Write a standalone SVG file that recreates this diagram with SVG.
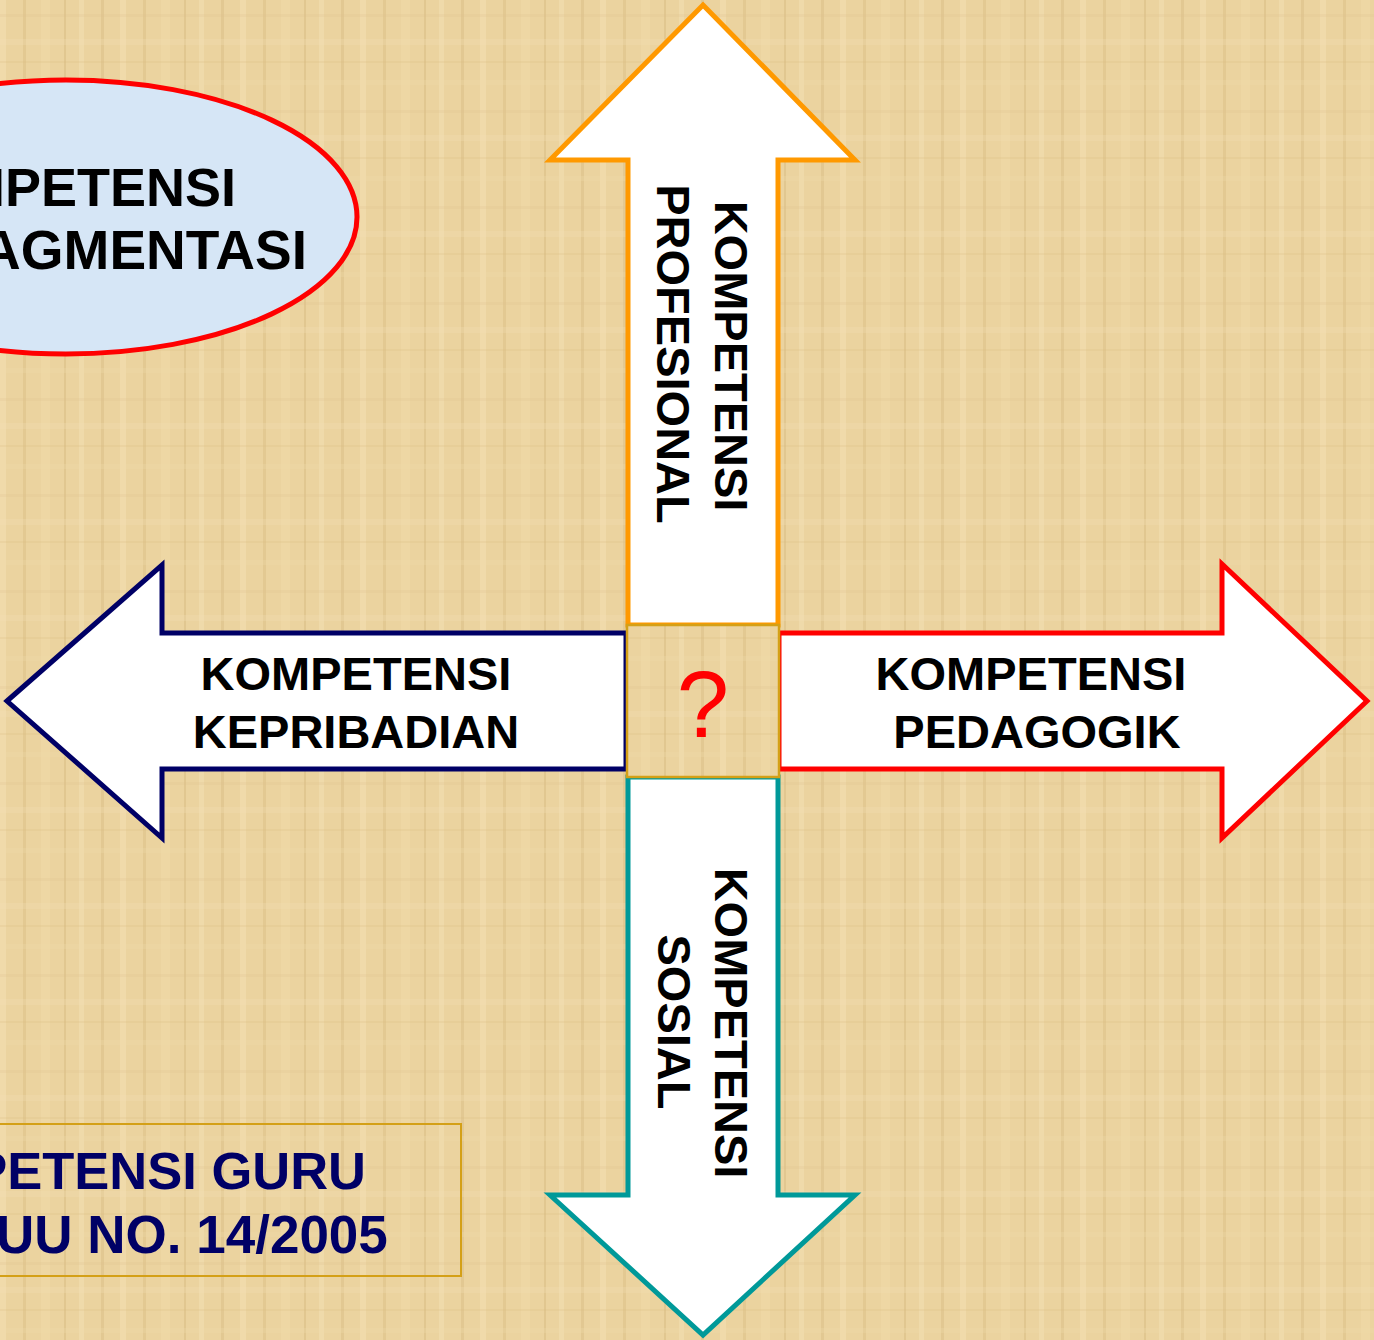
<svg xmlns="http://www.w3.org/2000/svg" width="1374" height="1340" viewBox="0 0 1374 1340">
<defs>
<style>
.t{font-family:"Liberation Sans",Arial,sans-serif;font-weight:bold;font-size:47px;fill:#000}
.big{font-family:"Liberation Sans",Arial,sans-serif;font-weight:bold;font-size:55px}
.arrow{fill:#fff;stroke-width:5;stroke-linejoin:miter}
</style>
<pattern id="papyrus" width="120" height="96" patternUnits="userSpaceOnUse">
<rect width="120" height="96" fill="#ebd39f"/>
<rect x="0" y="0" width="6" height="96" fill="#f3dfb0" opacity="0.6"/>
<rect x="23" y="0" width="3" height="96" fill="#d9bd84" opacity="0.45"/>
<rect x="41" y="0" width="9" height="96" fill="#f1dbaa" opacity="0.5"/>
<rect x="64" y="0" width="2" height="96" fill="#d2b47a" opacity="0.4"/>
<rect x="79" y="0" width="5" height="96" fill="#f4e2b6" opacity="0.5"/>
<rect x="101" y="0" width="3" height="96" fill="#d8bb82" opacity="0.45"/>
<rect x="0" y="14" width="120" height="3" fill="#dcc08a" opacity="0.2"/>
<rect x="0" y="39" width="120" height="6" fill="#f3e0b3" opacity="0.3"/>
<rect x="0" y="61" width="120" height="2" fill="#d6b97f" opacity="0.2"/>
<rect x="0" y="80" width="120" height="5" fill="#f1dcab" opacity="0.3"/>
</pattern>
</defs>
<rect width="1374" height="1340" fill="url(#papyrus)"/>

<g id="node-fragmentasi">
<ellipse cx="66" cy="217" rx="291" ry="137" fill="#d6e6f6" stroke="#ff0000" stroke-width="5"/>
<text class="big" x="236" y="206" text-anchor="end" fill="#000" style="font-size:54px">KOMPETENSI</text>
<text class="big" x="307" y="269" text-anchor="end" fill="#000">FRAGMENTASI</text>
</g>

<g id="node-profesional">
<polygon class="arrow" stroke="#ff9900" points="703,5 855,160 778,160 778,625 628,625 628,160 550,160"/>
<text class="t" text-anchor="middle" transform="translate(715,356) rotate(90)">KOMPETENSI</text>
<text class="t" text-anchor="middle" transform="translate(657,354) rotate(90)">PROFESIONAL</text>
</g>

<g id="node-sosial">
<polygon class="arrow" stroke="#009999" points="628,777 778,777 778,1195 855,1195 703,1335 550,1195 628,1195"/>
<text class="t" text-anchor="middle" transform="translate(715,1023) rotate(90)">KOMPETENSI</text>
<text class="t" text-anchor="middle" transform="translate(658,1022) rotate(90)">SOSIAL</text>
</g>

<g id="node-kepribadian">
<polygon class="arrow" stroke="#000066" points="7,701 162,565 162,633 626,633 626,769 162,769 162,838"/>
<text class="t" x="356" y="690" text-anchor="middle">KOMPETENSI</text>
<text class="t" x="356" y="748" text-anchor="middle">KEPRIBADIAN</text>
</g>

<g id="node-pedagogik">
<polygon class="arrow" stroke="#ff0000" points="779,633 1222,633 1222,564 1367,701 1222,838 1222,769 779,769"/>
<text class="t" x="1031" y="690" text-anchor="middle">KOMPETENSI</text>
<text class="t" x="1037" y="748" text-anchor="middle">PEDAGOGIK</text>
</g>

<g id="node-center">
<rect x="627" y="625" width="152" height="152" fill="url(#papyrus)" stroke="#d4a017" stroke-width="2.5"/>
<text x="703" y="737" text-anchor="middle" font-family="'Liberation Sans',Arial,sans-serif" font-size="94" fill="#ff0000">?</text>
</g>

<g id="node-guru">
<rect x="-10" y="1124" width="471" height="152" fill="none" stroke="#d4a017" stroke-width="2"/>
<text class="big" x="366" y="1189" text-anchor="end" fill="#000066" style="font-size:52.5px">KOMPETENSI GURU</text>
<text class="big" x="-4" y="1253" fill="#000066" style="font-size:53px">UU NO. 14/2005</text>
</g>
</svg>
